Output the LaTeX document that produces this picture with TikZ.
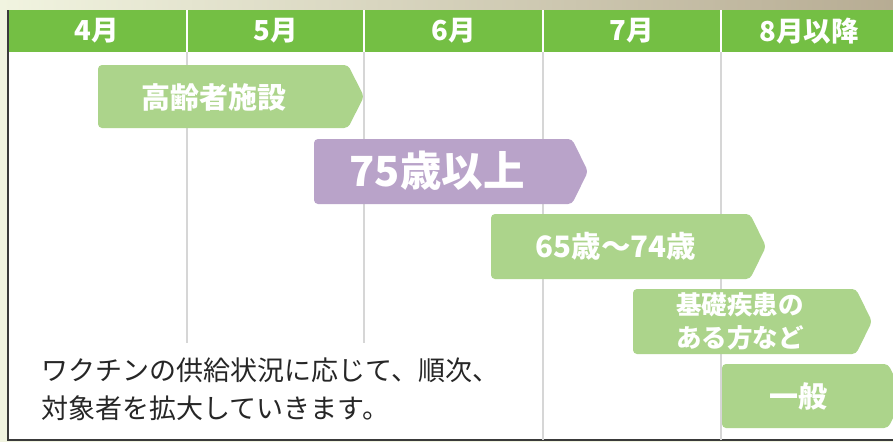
\documentclass[tikz,border=0pt]{standalone}
\usepackage{fontspec}
\setmainfont{Noto Sans CJK JP}
\definecolor{headgreen}{HTML}{74BF44}
\definecolor{barsgreen}{HTML}{ACD48B}
\definecolor{barpurple}{HTML}{B9A3C9}
\definecolor{gridgray}{HTML}{D6D6D6}
\definecolor{framegray}{HTML}{3A3A3A}
\definecolor{notegray}{HTML}{262626}
\definecolor{creamside}{HTML}{F1F4E0}
\tikzset{
  month/.style={text=white, font=\fontsize{27.5}{27.5}\selectfont\bfseries},
  grid/.style={draw=gridgray, line width=1.4pt},
  stagetext/.style={text=white, font=\fontsize{29}{29}\selectfont\bfseries, align=center},
  note/.style={text=notegray, anchor=west, font=\fontsize{27}{27}\selectfont}
}

\begin{document}
\begin{tikzpicture}[x=1pt,y=-1pt]
\newcommand{\tip}{16}
% pentagon bar: left, top, right tip, bottom, colour
\newcommand{\stagebar}[5]{
  \fill [#5, rounded corners=4pt] (#1,#2) -- ({#3-\tip},#2) -- (#3,{(#2+#4)/2})
    -- ({#3-\tip},#4) -- (#1,#4) -- cycle;
}

\clip (0,0) rectangle (893,442);
\useasboundingbox (0,0) rectangle (893,442);

% background
\fill [creamside] (0,0) rectangle (893,442);
\shade [left color=creamside, right color=black!25!creamside!80!brown] (0,0) rectangle (893,10);
\fill [white] (8,10) rectangle (893,440);
\fill [headgreen] (8,10) rectangle (893,52);
\draw [framegray, line width=1.2pt] (893,440) -- (8,440) -- (8,10);

% month columns
\foreach \xs/\ys in {187/343,364/343,543/440,721/440}{
  \draw [white, line width=1.4pt] (\xs,10) -- (\xs,52);
  \draw [grid] (\xs,52) -- (\xs,\ys);
}
\node [month] (apr) at (97,31) {4月};
\node [month] (may) at (276,31) {5月};
\node [month] (jun) at (454,31) {6月};
\node [month] (jul) at (632,31) {7月};
\node [month] (aug) at (809,31) {8月以降};

% stages
\stagebar{98}{65}{364}{128}{barsgreen}
\node [stagetext] (facility) at (214,97) {高齢者施設};

\stagebar{314}{139}{588}{204}{barpurple}
\node [stagetext, font=\fontsize{41.5}{41.5}\selectfont\bfseries] (over75) at (437,171) {75歳以上};

\stagebar{491}{214}{766}{279}{barsgreen}
\node [stagetext, font=\fontsize{29.5}{29.5}\selectfont\bfseries] (age65) at (616,246) {65歳〜74歳};

\stagebar{633}{289}{872}{354}{barsgreen}
\node [stagetext, font=\fontsize{25.5}{33}\selectfont\bfseries] (illness) at (740,321) {基礎疾患の\\ある方など};

\stagebar{722}{364}{904}{428}{barsgreen}
\node [stagetext] (general) at (798,396) {一般};

% note
\node [note] (line1) at (38,370) {ワクチンの供給状況に応じて、順次、};
\node [note] (line2) at (38,408) {対象者を拡大していきます。};
\end{tikzpicture}
\end{document}
